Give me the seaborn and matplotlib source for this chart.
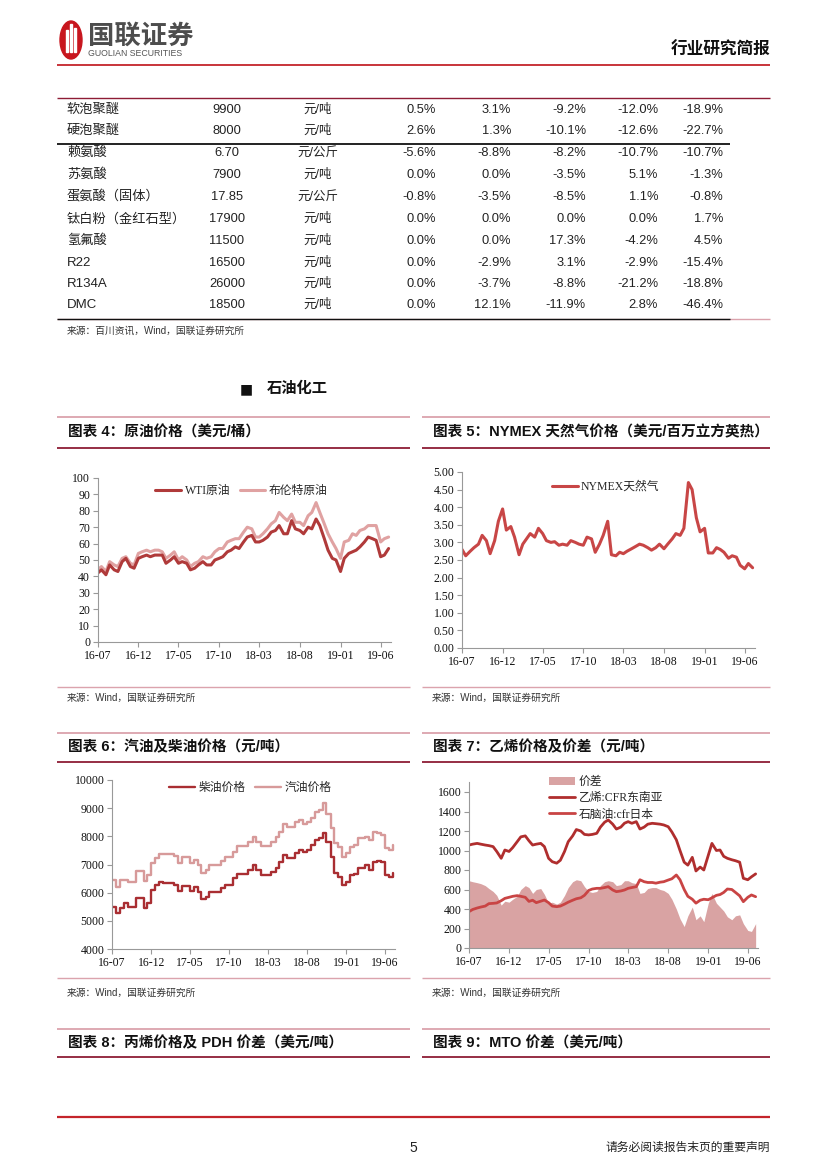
import numpy as np
import pandas as pd
import matplotlib.pyplot as plt
import matplotlib.dates as mdates
from matplotlib.patches import Ellipse, Rectangle
import seaborn as sns

# ---------------- table data ----------------
names = ['软泡聚醚', '硬泡聚醚', '赖氨酸', '苏氨酸', '蛋氨酸（固体）', '钛白粉（金红石型）',
         '氢氟酸', 'R22', 'R134A', 'DMC']
prices = ['9900', '8000', '6.70', '7900', '17.85', '17900', '11500', '16500', '26000', '18500']
units = ['元/吨', '元/吨', '元/公斤', '元/吨', '元/公斤', '元/吨', '元/吨', '元/吨', '元/吨', '元/吨']
chg1 = ['0.5%', '2.6%', '-5.6%', '0.0%', '-0.8%', '0.0%', '0.0%', '0.0%', '0.0%', '0.0%']
chg2 = ['3.1%', '1.3%', '-8.8%', '0.0%', '-3.5%', '0.0%', '0.0%', '-2.9%', '-3.7%', '12.1%']
chg3 = ['-9.2%', '-10.1%', '-8.2%', '-3.5%', '-8.5%', '0.0%', '17.3%', '3.1%', '-8.8%', '-11.9%']
chg4 = ['-12.0%', '-12.6%', '-10.7%', '5.1%', '1.1%', '0.0%', '-4.2%', '-2.9%', '-21.2%', '2.8%']
chg5 = ['-18.9%', '-22.7%', '-10.7%', '-1.3%', '-0.8%', '1.7%', '4.5%', '-15.4%', '-18.8%', '-46.4%']

# ---------------- chart data (half-monthly) ----------------
dates = pd.date_range('2016-07-01', '2019-07-01', freq='SMS')

wti = [42, 44, 41, 47, 44, 43, 49, 51, 46, 45,
       51, 52, 53, 52, 53, 53, 53, 48, 50, 52,
       48, 49, 48, 44, 45, 47, 49, 47, 47, 50,
       51, 52, 55, 56, 58, 57, 61, 64, 65, 61,
       61, 62, 64, 67, 68, 71, 66, 66, 74, 69,
       68, 66, 70, 69, 75, 71, 63, 56, 51, 50,
       43, 51, 54, 55, 56, 58, 61, 64, 63, 62,
       52, 53, 57]
brent = [44, 46, 43, 49, 47, 46, 51, 52, 48, 47,
         54, 55, 56, 55, 56, 56, 55, 51, 53, 55,
         50, 52, 50, 46, 48, 49, 52, 51, 52, 55,
         57, 57, 61, 62, 63, 63, 67, 70, 69, 64,
         64, 66, 69, 72, 74, 79, 76, 74, 78, 73,
         73, 71, 77, 79, 85, 79, 72, 66, 61, 57,
         51, 61, 62, 66, 65, 68, 69, 71, 71, 71,
         61, 63, 64]
gas = [2.80, 2.62, 2.75, 2.85, 2.95, 3.20, 3.05, 2.68, 3.05, 3.60,
       3.95, 3.35, 3.45, 3.15, 2.65, 2.95, 3.10, 3.25, 3.15, 3.40,
       3.25, 3.05, 3.00, 3.02, 2.92, 2.95, 2.92, 3.05, 3.00, 2.95,
       2.92, 3.15, 3.10, 2.72, 2.95, 3.20, 3.60, 2.65, 2.62, 2.72,
       2.68, 2.75, 2.82, 2.88, 2.95, 2.92, 2.85, 2.78, 2.85, 2.95,
       2.82, 2.95, 3.10, 3.25, 3.20, 3.40, 4.70, 4.50, 3.70, 3.30,
       3.40, 2.70, 2.70, 2.85, 2.80, 2.72, 2.55, 2.62, 2.58, 2.35,
       2.25, 2.40, 2.28]
diesel = [5480, 5270, 5440, 5640, 5480, 5480, 5820, 5820, 5470, 5620,
          6095, 6270, 6390, 6330, 6330, 6330, 6270, 6060, 6250, 6250,
          6070, 6210, 6040, 5775, 5860, 6010, 6010, 6010, 6150, 6270,
          6270, 6510, 6660, 6660, 6660, 6800, 6980, 6800, 6630, 6630,
          6630, 6745, 6860, 7100, 7340, 7220, 7220, 7400, 7510, 7430,
          7510, 7690, 7870, 7930, 8110, 7810, 7280, 6690, 6570, 6270,
          6390, 6630, 6650, 6860, 6860, 6980, 6800, 7100, 7140, 7080,
          6630, 6570, 6690]
petrol = [6450, 6210, 6450, 6450, 6390, 6390, 6770, 6770, 6410, 6630,
          7040, 7220, 7360, 7360, 7360, 7360, 7300, 7040, 7280, 7280,
          7040, 7160, 6980, 6710, 6800, 6980, 6980, 6980, 7130, 7280,
          7280, 7460, 7670, 7670, 7670, 7810, 7990, 7810, 7670, 7670,
          7670, 7810, 7990, 8140, 8430, 8340, 8340, 8520, 8580, 8430,
          8520, 8660, 8880, 8940, 9170, 8810, 8280, 7750, 7630, 7280,
          7400, 7630, 7690, 7950, 7950, 7990, 7870, 8140, 8110, 8050,
          7570, 7510, 7690]
ethylene = [1056, 1065, 1073, 1065, 1056, 1050, 1040, 990, 920, 1005,
            990, 1030, 1090, 1140, 1150, 1100, 1056, 1065, 1073, 1040,
            920, 885, 870, 900, 990, 1090, 1150, 1215, 1200, 1165,
            1160, 1165, 1176, 1240, 1290, 1313, 1270, 1220, 1240, 1280,
            1296, 1279, 1296, 1220, 1240, 1270, 1279, 1275, 1270, 1262,
            1244, 1190, 1110, 1000, 880, 850, 930, 790, 830, 800,
            950, 1073, 1000, 1005, 940, 920, 905, 895, 880, 715,
            700, 730, 760]
naphtha = [373, 395, 410, 420, 430, 455, 458, 462, 485, 509,
           520, 530, 537, 530, 520, 478, 490, 465, 480, 492,
           465, 430, 424, 430, 450, 470, 490, 505, 515, 540,
           590, 605, 612, 612, 620, 629, 595, 578, 585, 595,
           612, 620, 629, 700, 680, 672, 672, 665, 675, 680,
           697, 710, 749, 700, 600, 530, 500, 460, 490, 500,
           495, 515, 540, 548, 570, 605, 600, 570, 535, 475,
           520, 544, 526]
spread = [690, 680, 670, 660, 640, 610, 580, 540, 440, 480,
          470, 500, 530, 600, 640, 620, 560, 600, 610, 550,
          460, 470, 450, 470, 540, 620, 680, 700, 690, 630,
          580, 570, 580, 640, 680, 690, 680, 640, 650, 690,
          690, 670, 660, 560, 570, 610, 620, 620, 600, 590,
          560, 500, 400, 300, 220, 330, 420, 290, 330, 270,
          460, 560, 460, 420, 380, 320, 290, 330, 340, 250,
          180, 170, 250]

xticks = pd.date_range('2016-07-01', periods=8, freq='5MS')

sns.set_theme(style='white')
SERIF = ['Liberation Serif', 'Noto Sans CJK SC']
SANS = ['Liberation Sans', 'Noto Sans CJK SC']
plt.rcParams['font.family'] = SERIF

W, H = 827, 1169
fig = plt.figure(figsize=(8.27, 11.69), dpi=100)
page = fig.add_axes([0, 0, 1, 1])
page.set_xlim(0, W)
page.set_ylim(H, 0)
page.axis('off')

PINK = '#dba3ad'
MAROON = '#8e1c35'
RED = '#c4242b'


def hline(y, x0, x1, color, lw=1.0):
    page.plot([x0, x1], [y, y], color=color, lw=lw, solid_capstyle='butt')


def txt(x, y, s, size=9, ha='left', family=SANS, **kw):
    page.text(x, y, s, fontsize=size, ha=ha, va='center', family=family, **kw)


# ---------------- header ----------------
page.add_patch(Ellipse((71, 40), 22, 38, color='#c8161e'))
for bx, bh in [(66, 22), (70, 28), (74, 24)]:
    page.add_patch(Rectangle((bx, 52 - bh), 1.6, bh, color='white'))
txt(88, 36, '国联证券', size=19, color='#4d4d4d', weight='bold')
txt(88, 54, 'GUOLIAN SECURITIES', size=6.3, color='#555555')
txt(770, 50, '行业研究简报', size=12, ha='right', color='#111111', weight='bold')
hline(64.5, 57, 770, RED, lw=1.3)

# ---------------- table ----------------
hline(98, 57, 770, MAROON, lw=1.0)
row_y = [110, 131, 153, 175, 197, 219, 241, 263, 284, 305]
for i, y in enumerate(row_y):
    txt(67, y, names[i], size=9.5, color='#222222')
    txt(227, y, prices[i], size=9.3, ha='center', color='#222222')
    txt(318, y, units[i], size=9, ha='center', color='#222222')
    for xr, col in zip([436, 511, 586, 658, 723], [chg1, chg2, chg3, chg4, chg5]):
        txt(xr, y, col[i], size=9.3, ha='right', color='#222222')
hline(144, 57, 730, '#111111', lw=1.3)
hline(318.5, 57, 770, PINK, lw=1.0)
hline(318.5, 57, 730, '#111111', lw=1.0)
txt(67, 331, '来源：百川资讯，Wind，国联证券研究所', size=7, color='#333333')

# ---------------- section header ----------------
txt(240, 389, '■', size=10, color='#111111', family=['DejaVu Sans'])
txt(267, 389, '石油化工', size=11, color='#111111', weight='bold')


def title_box(x0, x1, ytop, ybot, s):
    hline(ytop, x0, x1, PINK, lw=1.3)
    hline(ybot, x0, x1, MAROON, lw=1.3)
    txt(x0 + 11, (ytop + ybot) / 2, s, size=10.5, color='#111111', weight='bold')


title_box(57, 410, 417, 448, '图表 4：原油价格（美元/桶）')
title_box(422, 770, 417, 448, '图表 5：NYMEX 天然气价格（美元/百万立方英热）')
title_box(57, 410, 733, 762, '图表 6：汽油及柴油价格（元/吨）')
title_box(422, 770, 733, 762, '图表 7：乙烯价格及价差（元/吨）')
title_box(57, 410, 1029, 1057, '图表 8：丙烯价格及 PDH 价差（美元/吨）')
title_box(422, 770, 1029, 1057, '图表 9：MTO 价差（美元/吨）')

for y in (687, 978):
    hline(y, 57, 410, PINK, lw=1.0)
    hline(y, 422, 770, PINK, lw=1.0)
for y in (698, 993):
    txt(67, y, '来源：Wind，国联证券研究所', size=7, color='#333333')
    txt(432, y, '来源：Wind，国联证券研究所', size=7, color='#333333')

# ---------------- footer ----------------
hline(1117, 57, 770, RED, lw=1.6)
txt(413, 1148, '5', size=10, ha='center', color='#222222')
txt(770, 1148, '请务必阅读报告末页的重要声明', size=8.5, ha='right', color='#222222')


# ---------------- charts ----------------
def px_axes(l, t, r, b):
    return fig.add_axes([l / W, 1 - b / H, (r - l) / W, (b - t) / H])


def style(ax, lo, hi, yticks, fmt):
    ax.set_xlim(pd.Timestamp('2016-07-01'), pd.Timestamp('2019-07-10'))
    ax.set_ylim(lo, hi)
    ax.set_yticks(yticks)
    ax.set_yticklabels([fmt.format(v) for v in yticks])
    ax.set_xticks(xticks)
    ax.xaxis.set_major_formatter(mdates.DateFormatter('%y-%m'))
    ax.set_xlabel('')
    ax.set_ylabel('')
    ax.grid(False)
    ax.patch.set_alpha(0)
    for s in ('top', 'right'):
        ax.spines[s].set_visible(False)
    for s in ('left', 'bottom'):
        ax.spines[s].set_color('#999999')
        ax.spines[s].set_linewidth(0.8)
    ax.tick_params(axis='both', direction='out', length=3.5, width=0.8, color='#999999',
                   labelsize=8.5, labelcolor='#111111', bottom=True, left=True, pad=2)


# chart 4
ax4 = px_axes(97.7, 478, 391, 642)
sns.lineplot(x=dates, y=wti, ax=ax4, color='#b03a3a', lw=2.2, label='WTI原油', estimator=None)
sns.lineplot(x=dates, y=brent, ax=ax4, color='#e0a2a2', lw=2.2, label='布伦特原油', estimator=None)
ax4.lines[1].set_zorder(1)
style(ax4, 0, 100, list(range(0, 101, 10)), '{:d}')
ax4.legend(loc='upper center', bbox_to_anchor=(0.49, 1.02), ncol=2, frameon=False,
           fontsize=8.5, handlelength=2.2, handletextpad=0.3, columnspacing=0.8)

# chart 5
ax5 = px_axes(462, 472, 755, 648)
sns.lineplot(x=dates, y=gas, ax=ax5, color='#c84646', lw=2.2, label='NYMEX天然气', estimator=None)
style(ax5, 0, 5, [i * 0.5 for i in range(11)], '{:.2f}')
ax5.legend(loc='upper center', bbox_to_anchor=(0.49, 1.01), frameon=False,
           fontsize=8.5, handlelength=2.2, handletextpad=0.3)

# chart 6
ax6 = px_axes(112, 780, 395, 949)
sns.lineplot(x=dates, y=diesel, ax=ax6, color='#a92e32', lw=1.7, label='柴油价格',
             estimator=None, drawstyle='steps-post')
sns.lineplot(x=dates, y=petrol, ax=ax6, color='#d79a9a', lw=1.7, label='汽油价格',
             estimator=None, drawstyle='steps-post')
style(ax6, 4000, 10000, list(range(4000, 10001, 1000)), '{:d}')
ax6.legend(loc='upper center', bbox_to_anchor=(0.49, 1.05), ncol=2, frameon=False,
           fontsize=8.5, handlelength=2.2, handletextpad=0.3, columnspacing=0.8)

# chart 7
ax7 = px_axes(469, 782.25, 758, 948)
area = ax7.fill_between(dates, 0, spread, color='#d9a3a3', lw=0, label='价差')
sns.lineplot(x=dates, y=ethylene, ax=ax7, color='#b02e2e', lw=2.0, label='乙烯:CFR东南亚', estimator=None)
sns.lineplot(x=dates, y=naphtha, ax=ax7, color='#c94444', lw=2.0, label='石脑油:cfr日本', estimator=None)
style(ax7, 0, 1700, list(range(0, 1601, 200)), '{:d}')
h, l = ax7.get_legend_handles_labels()
order = [l.index('价差'), l.index('乙烯:CFR东南亚'), l.index('石脑油:cfr日本')]
ax7.legend([h[i] for i in order], [l[i] for i in order], loc='upper left',
           bbox_to_anchor=(0.24, 1.10), frameon=False, fontsize=8.5,
           handlelength=2.2, handletextpad=0.3, labelspacing=0.35)

fig.savefig('out.png', dpi=100)
